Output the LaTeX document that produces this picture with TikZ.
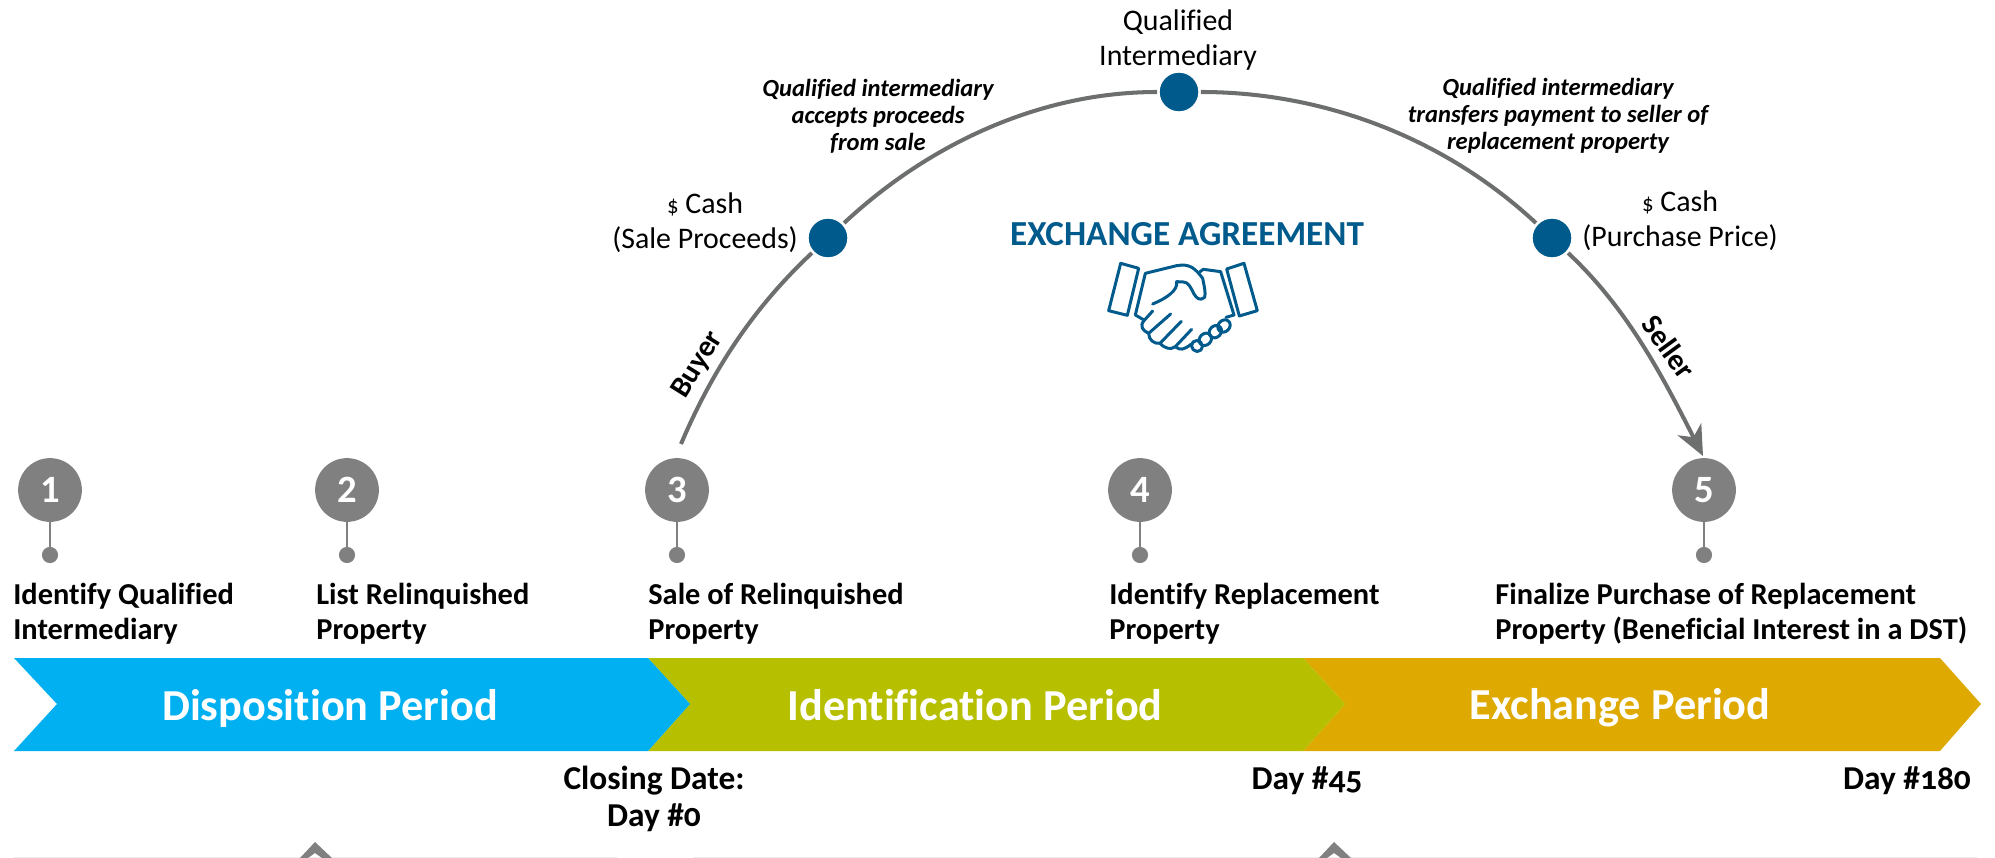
\documentclass[tikz,border=0pt]{standalone}
\usepackage{fontspec}
\setmainfont[Ligatures=NoCommon]{Carlito}
\usetikzlibrary{arrows.meta}
\definecolor{dispoblue}{HTML}{00B0F0}
\definecolor{identgreen}{HTML}{B7C000}
\definecolor{exchgold}{HTML}{DEA900}
\definecolor{dealblue}{HTML}{005A8C}
\definecolor{stepgray}{HTML}{808080}
\definecolor{arcgray}{HTML}{6D6E6E}
\definecolor{railgray}{HTML}{EDEDED}
\newfontfamily\olsty[Numbers=OldStyle]{Carlito}
\tikzset{
  numdot/.style={circle,fill=stepgray,text=white,inner sep=0pt,minimum size=36.3pt,font=\fontsize{22}{24}\selectfont\bfseries},
  pindot/.style={circle,fill=stepgray,inner sep=0pt,minimum size=9.2pt},
  stepname/.style={anchor=west,align=left,inner sep=0pt,font=\fontsize{17.3}{19.9}\selectfont\bfseries},
  dayname/.style={align=center,inner sep=0pt,font=\fontsize{19}{21}\selectfont\bfseries\olsty},
  period/.style={text=white,inner sep=0pt,font=\fontsize{25.2}{27}\selectfont\bfseries},
  dealdot/.style={circle,fill=dealblue,draw=white,line width=1.5pt,inner sep=0pt,minimum size=23.5pt},
  moneyname/.style={align=center,inner sep=0pt,font=\fontsize{17}{20}\selectfont},
  noteline/.style={align=center,inner sep=0pt,font=\fontsize{14}{15.4}\selectfont\bfseries\itshape},
  leg/.style={inner sep=0pt,font=\fontsize{17}{19}\selectfont\bfseries},
  deal/.style={color=arcgray,line width=2.3pt,looseness=0.88},
  shake/.style={draw=dealblue,line width=1.7pt,line join=round,line cap=round}
}
\begin{document}
\begin{tikzpicture}[x=0.02cm,y=-0.02cm]
  \useasboundingbox (0,0) rectangle (1995,858);
  \fill[exchgold] (1303,658) -- (1940,658) -- (1981,704) -- (1940,751) -- (1303,751) -- (1345,704) -- cycle;
  \fill[identgreen] (648,658) -- (1303,658) -- (1345,704) -- (1303,751) -- (648,751) -- (690,704) -- cycle;
  \fill[dispoblue] (14,658) -- (648,658) -- (690,704) -- (648,751) -- (14,751) -- (57,704) -- cycle;
  \node[period] (dispo) at (330,708) {Disposition Period};
  \node[period] (ident) at (975,705) {Identification Period};
  \node[period] (exch) at (1620,708) {Exchange Period};

  \node[numdot] (n1) at (50,490) {1};
  \node[numdot] (n2) at (347,490) {2};
  \node[numdot] (n3) at (677,490) {3};
  \node[numdot] (n4) at (1140,490) {4};
  \node[numdot] (n5) at (1704,490) {5};
  \foreach \n/\x in {1/50,2/347,3/677,4/1140,5/1704} {
    \node[pindot] (p\n) at (\x,555) {};
    \draw[stepgray,line width=1.2pt] (n\n) -- (p\n);
  }
  \node[stepname] (s1) at (13,614) {Identify Qualified\\Intermediary};
  \node[stepname] (s2) at (316,614) {List Relinquished\\Property};
  \node[stepname] (s3) at (648,614) {Sale of Relinquished\\Property};
  \node[stepname] (s4) at (1109,614) {Identify Replacement\\Property};
  \node[stepname] (s5) at (1495,614) {Finalize Purchase of Replacement\\Property (Beneficial Interest in a DST)};

  \node[dayname] (d0) at (654,799) {Closing Date:\\Day \#0};
  \node[dayname] (d45) at (1307,781) {Day \#45};
  \node[dayname] (d180) at (1907,781) {Day \#180};

  \coordinate (buyerfoot) at (681,444);
  \coordinate (sellertip) at (1703,456);
  \node[dealdot] (cashin) at (828,238) {};
  \node[dealdot] (qi) at (1179,92) {};
  \node[dealdot] (cashout) at (1552,238) {};
  \draw[deal] (buyerfoot) to[out=67,in=223] (cashin);
  \draw[deal] (cashin) to[out=43,in=180] (qi);
  \draw[deal] (qi) to[out=0,in=137] (cashout);
  \draw[deal,-{Stealth[length=17pt,width=15pt,inset=5pt]}] (cashout) to[out=-43,in=117] (sellertip);

  \node[moneyname] (qname) at (1178,40) {Qualified\\Intermediary};
  \node[moneyname] (inname) at (705,223) {{\fontsize{13}{15}\selectfont\$} Cash\\(Sale Proceeds)};
  \node[moneyname] (outname) at (1680,221) {{\fontsize{13}{15}\selectfont\$} Cash\\(Purchase Price)};
  \node[noteline] (innote) at (878,116) {Qualified intermediary\\accepts proceeds\\from sale};
  \node[noteline] (outnote) at (1558,116) {Qualified intermediary\\transfers payment to seller of\\replacement property};
  \node[leg,rotate=58] (buyer) at (698,365) {Buyer};
  \node[leg,rotate=-54] (seller) at (1669,347) {Seller};
  \node[text=dealblue,inner sep=0pt,font=\fontsize{20}{22}\selectfont\bfseries] (agree) at (1187,234) {EXCHANGE AGREEMENT};

  \begin{scope}[shift={(1000,200)},x=0.02cm/3,y=-0.02cm/3]
    \draw[shake] (362,190) -- (416,205) -- (382,346) -- (326,332) -- cycle;
    \draw[shake] (680,207) -- (732,190) -- (772,332) -- (718,348) -- cycle;
    \draw[shake] (432,360) -- (406,345) -- (436,220) -- (530,197) .. controls (570,190) and (585,205) .. (608,235)
      .. controls (612,255) and (618,280) .. (614,292) .. controls (600,304) and (590,295) .. (582,282)
      .. controls (572,262) and (565,246) .. (550,246) -- (530,245) .. controls (535,270) and (500,295) .. (458,312);
    \draw[shake] (600,215) -- (610,208) -- (662,215) -- (702,345) -- (678,352);
    \draw[shake] (458,333) -- (432,362) .. controls (418,378) and (428,392) .. (446,400) -- (512,342);
    \draw[shake] (446,400) .. controls (446,420) and (462,432) .. (480,430) -- (544,364);
    \draw[shake] (480,430) .. controls (495,446) and (512,450) .. (526,440) -- (575,388);
    \draw[shake] (526,440) .. controls (540,452) and (552,450) .. (574,432);
    \foreach \cx/\cy/\ra in {672/378/20,646/395/20,616/418/20,591/438/16} {
      \draw[shake,rotate around={-135:(\cx,\cy)}] (\cx,\cy) ellipse[x radius=\ra,y radius=17];
    }
  \end{scope}

  \draw[railgray,line width=1pt] (14,857.5) -- (617,857.5);
  \draw[railgray,line width=1pt] (693,857.5) -- (1977,857.5);
  \fill[stepgray] (300,858) -- (315,842) -- (332,858) -- (322,858) -- (315,853) -- (308,858) -- cycle;
  \fill[stepgray] (1319,858) -- (1334,842) -- (1351,858) -- (1341,858) -- (1334,853) -- (1327,858) -- cycle;
\end{tikzpicture}
\end{document}
